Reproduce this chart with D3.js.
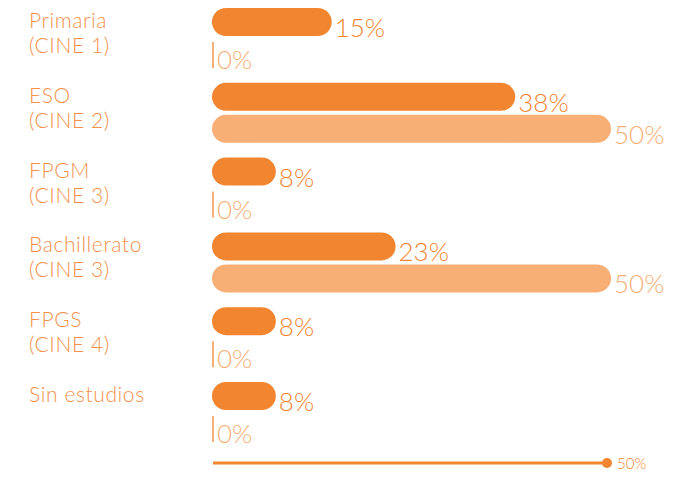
<!DOCTYPE html>
<html>
<head>
<meta charset="utf-8">
<script src="https://cdn.jsdelivr.net/npm/d3@7"></script>
<style>
html,body{margin:0;padding:0;background:#fff;}
svg text{font-family:Lato,"Open Sans",sans-serif;font-weight:300;}
</style>
</head>
<body>
<svg id="chart" width="680" height="477"></svg>
<script>
const categories = [["Primaria","(CINE 1)"],["ESO","(CINE 2)"],["FPGM","(CINE 3)"],["Bachillerato","(CINE 3)"],["FPGS","(CINE 4)"],["Sin estudios"]];
const seriesA = [15, 38, 8, 23, 8, 8];
const seriesB = [0, 50, 0, 50, 0, 0];
const axisMax = 50;

const darkC = "#F28530", lightC = "#F8AF76", labelC = "#F3914A";
const svg = d3.select("#chart");
const x = d3.scaleLinear().domain([0, axisMax]).range([212, 611]);
const y = d3.scaleLinear().domain([0, 5]).range([8, 382]);
const bh = 28, gap = 4;

const rows = svg.selectAll("g.row").data(categories).join("g").attr("class","row")
  .attr("transform", (d,i) => `translate(0,${y(i)})`);

// category labels (one text per line)
rows.each(function(d){
  const g = d3.select(this);
  d.forEach((line,j)=>{
    g.append("text").attr("x",29).attr("y",20 + j*25)
      .attr("fill",labelC).style("font-size","21px")
      .style("letter-spacing","0.6px").text(line);
  });
});

function drawSeries(vals, offset, color){
  rows.each(function(d,i){
    const g = d3.select(this);
    const v = vals[i];
    if (v > 0){
      g.append("rect").attr("x", x(0)).attr("y", offset)
        .attr("width", x(v)-x(0)).attr("height", bh)
        .attr("rx", bh/2).attr("fill", color);
      g.append("text").attr("x", x(v)+3).attr("y", offset+bh+1)
        .attr("fill", color).style("font-size","26px").text(v+"%");
    } else {
      g.append("line").attr("x1", x(0)+1).attr("x2", x(0)+1)
        .attr("y1", offset+2).attr("y2", offset+bh)
        .attr("stroke", lightC).attr("stroke-width", 2);
      g.append("text").attr("x", x(0)+5).attr("y", offset+bh+1)
        .attr("fill", lightC).style("font-size","26px").text(v+"%");
    }
  });
}
drawSeries(seriesA, 0, darkC);
drawSeries(seriesB, bh+gap, lightC);

// axis
const ay = 463;
svg.append("line").attr("x1", x(0)+1).attr("x2", x(axisMax)-4).attr("y1", ay).attr("y2", ay)
  .attr("stroke", darkC).attr("stroke-width", 3);
svg.append("circle").attr("cx", x(axisMax)-4).attr("cy", ay).attr("r", 5).attr("fill", darkC);
svg.append("text").attr("x", x(axisMax)+6).attr("y", ay+6).attr("fill", darkC)
  .style("font-size","15px").text(axisMax+"%");
</script>
</body>
</html>
